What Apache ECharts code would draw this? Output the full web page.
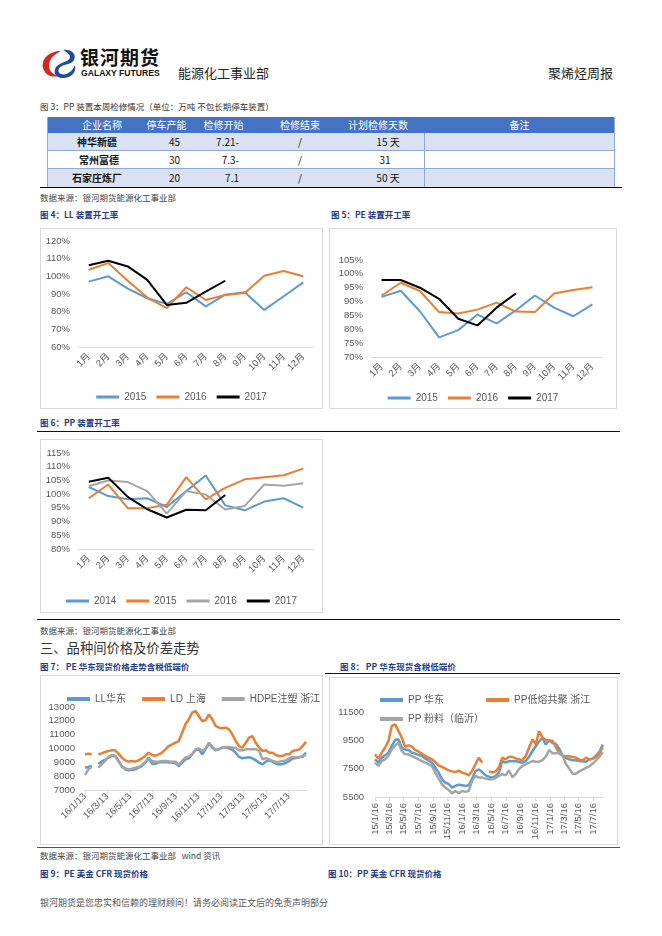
<!DOCTYPE html>
<html><head><meta charset="utf-8">
<script src="https://cdn.jsdelivr.net/npm/echarts@6/dist/echarts.min.js"></script>
<style>
html,body{margin:0;padding:0;background:#fff;}
body{width:662px;height:936px;position:relative;overflow:hidden;font-family:"Noto Sans CJK SC","Noto Sans",sans-serif;}
.t{position:absolute;white-space:nowrap;}
.cap{position:absolute;white-space:nowrap;font-size:8.5px;font-weight:bold;color:#1F3C88;line-height:10px;}
.src{position:absolute;white-space:nowrap;font-size:8.5px;color:#444;line-height:10px;}
.box{position:absolute;border:1px solid #D9D9D9;box-sizing:border-box;}
.hl{position:absolute;height:0;border-top:1px solid #111;}
.cell{position:absolute;font-size:10px;line-height:18px;height:18px;color:#111;}
</style></head>
<body>
<!-- header -->
<svg class="t" style="left:40px;top:48px" width="38" height="32" viewBox="0 0 38 32">
  <path d="M21 3 C9 3 1 11 3 20 C5 27 12 30 18 28 C11 26 7 20 10 13 C12 8 17 5 21 3 Z" fill="#D7261E"/>
  <path d="M23 2 C31 1 37 6 34 12 C32 16 26 16 22 18 C18 20 17 24 21 26 C26 28 33 23 35 17 C37 25 30 31 21 30 C14 29 13 22 17 18 C21 14 28 14 30 10 C31 7 27 4 23 2 Z" fill="#1E4BA0"/>
</svg>
<div class="t" style="left:80px;top:46px;font-size:19px;font-weight:bold;color:#111;letter-spacing:1px;line-height:22px;">银河期货</div>
<div class="t" style="left:81px;top:69px;font-size:8.6px;font-weight:bold;color:#111;font-family:'Liberation Sans',sans-serif;line-height:9px;">GALAXY FUTURES</div>
<div class="t" style="left:178px;top:65px;font-size:13px;color:#222;line-height:16px;">能源化工事业部</div>
<div class="t" style="left:548px;top:65px;font-size:13px;color:#222;line-height:16px;">聚烯烃周报</div>

<!-- table -->
<div class="src" style="left:40px;top:101px;color:#333;">图 3：PP 装置本周检修情况（单位：万吨 不包长期停车装置）</div>
<div style="position:absolute;left:47px;top:117px;width:568px;height:16px;background:#4472C4;"></div>
<div style="position:absolute;left:47px;top:133px;width:568px;height:18px;background:#D9E1F2;border-bottom:1px solid #8EA9DB;box-sizing:border-box;"></div>
<div style="position:absolute;left:47px;top:151px;width:568px;height:18px;background:#fff;border-bottom:1px solid #8EA9DB;box-sizing:border-box;"></div>
<div style="position:absolute;left:47px;top:169px;width:568px;height:19px;background:#D9E1F2;"></div>
<div style="position:absolute;left:424px;top:133px;width:0;height:55px;border-left:1px solid #8EA9DB;"></div>
<div style="position:absolute;left:614px;top:117px;width:0;height:71px;border-left:1px solid #8EA9DB;"></div>
<div style="position:absolute;left:47px;top:117px;width:0;height:71px;border-left:1px solid #8EA9DB;"></div>
<div class="hl" style="left:40px;top:187px;width:582px;border-top:1.5px solid #000;"></div>
<div class="cell" style="left:47px;top:116px;width:110px;text-align:center;color:#fff;">企业名称</div>
<div class="cell" style="left:138px;top:116px;width:57px;text-align:center;color:#fff;">停车产能</div>
<div class="cell" style="left:195px;top:116px;width:57px;text-align:center;color:#fff;">检修开始</div>
<div class="cell" style="left:265px;top:116px;width:70px;text-align:center;color:#fff;">检修结束</div>
<div class="cell" style="left:340px;top:116px;width:76px;text-align:center;color:#fff;">计划检修天数</div>
<div class="cell" style="left:424px;top:116px;width:191px;text-align:center;color:#fff;">备注</div>

<div class="cell" style="left:47px;top:133px;width:100px;text-align:center;font-weight:bold;">神华新疆</div>
<div class="cell" style="left:138px;top:133px;width:42px;text-align:right;">45</div>
<div class="cell" style="left:195px;top:133px;width:44px;text-align:right;">7.21-</div>
<div class="cell" style="left:265px;top:133px;width:70px;text-align:center;">/</div>
<div class="cell" style="left:350px;top:133px;width:76px;text-align:center;">15 天</div>

<div class="cell" style="left:47px;top:151px;width:104px;text-align:center;font-weight:bold;">常州富德</div>
<div class="cell" style="left:138px;top:151px;width:42px;text-align:right;">30</div>
<div class="cell" style="left:195px;top:151px;width:44px;text-align:right;">7.3-</div>
<div class="cell" style="left:265px;top:151px;width:70px;text-align:center;">/</div>
<div class="cell" style="left:347px;top:151px;width:76px;text-align:center;">31</div>

<div class="cell" style="left:47px;top:169px;width:100px;text-align:center;font-weight:bold;">石家庄炼厂</div>
<div class="cell" style="left:138px;top:169px;width:42px;text-align:right;">20</div>
<div class="cell" style="left:195px;top:169px;width:44px;text-align:right;">7.1</div>
<div class="cell" style="left:265px;top:169px;width:70px;text-align:center;">/</div>
<div class="cell" style="left:350px;top:169px;width:76px;text-align:center;">50 天</div>
<div class="src" style="left:40px;top:192px;">数据来源：银河期货能源化工事业部</div>

<!-- fig 4/5 -->
<div class="cap" style="left:40px;top:209px;">图 4：LL 装置开工率</div>
<div class="cap" style="left:331px;top:209px;">图 5：PE 装置开工率</div>
<div class="box" id="c4" style="left:40px;top:228px;width:283px;height:181px;"></div>
<div class="box" id="c5" style="left:329px;top:228px;width:288px;height:181px;"></div>

<!-- fig 6 -->
<div class="cap" style="left:40px;top:417px;">图 6：PP 装置开工率</div>
<div class="hl" style="left:37px;top:431px;width:583px;"></div>
<div class="box" id="c6" style="left:40px;top:439px;width:283px;height:174px;"></div>
<div class="hl" style="left:37px;top:619px;width:583px;"></div>
<div class="src" style="left:40px;top:625px;">数据来源：银河期货能源化工事业部</div>

<!-- section -->
<div class="t" style="left:40px;top:639px;font-size:13.3px;color:#333;line-height:17px;">三、品种间价格及价差走势</div>
<div class="cap" style="left:40px;top:661px;">图 7：&nbsp;PE 华东现货价格走势含税低端价</div>
<div class="cap" style="left:340px;top:661px;">图 8：&nbsp;PP 华东现货含税低端价</div>
<div class="hl" style="left:325px;top:673px;width:295px;"></div>
<div class="box" id="c7" style="left:40px;top:675px;width:283px;height:170px;"></div>
<div class="box" id="c8" style="left:329px;top:677px;width:289px;height:168px;"></div>
<div class="hl" style="left:37px;top:847px;width:583px;border-top:1px solid #555;"></div>
<div class="src" style="left:40px;top:850px;">数据来源：银河期货能源化工事业部&nbsp;&nbsp;&nbsp;wind 资讯</div>
<div class="cap" style="left:40px;top:868px;">图 9：PE 美金 CFR 现货价格</div>
<div class="cap" style="left:328px;top:868px;">图 10：PP 美金 CFR 现货价格</div>
<div class="t" style="left:40px;top:897px;font-size:9px;color:#555;line-height:12px;">银河期货是您忠实和信赖的理财顾问！请务必阅读正文后的免责声明部分</div>

<script>
// ---------- data ----------
const months = ['1月','2月','3月','4月','5月','6月','7月','8月','9月','10月','11月','12月'];

// Fig 4: LL operating rate (%)
const ll2015 = [97, 100, 93, 87.6, 84.4, 91, 83, 89.6, 91, 81, 88.7, 96.6];
const ll2016 = [103.7, 107.5, 97.5, 88, 82, 93.8, 86.6, 89.5, 90.6, 100.3, 103, 100];
const ll2017 = [106.3, 108.8, 105.6, 98, 83.8, 85, 91.3, 97.5];

// Fig 5: PE operating rate (%)
const pe2015 = [91.7, 93.9, 86.5, 77.1, 79.7, 85.3, 82.1, 86.8, 92.2, 87.8, 84.7, 89];
const pe2016 = [92.2, 96.8, 93.8, 86.2, 85.7, 87.1, 89.6, 86.4, 86.2, 92.9, 94.2, 95.2];
const pe2017 = [97.8, 97.8, 95, 91, 83.8, 81.4, 87.8, 92.9];

// Fig 6: PP operating rate (%)
const pp2014 = [102.6, 99.3, 98.1, 98.5, 95.3, 101.1, 106.8, 95.9, 94.1, 97.3, 98.5, 95.1];
const pp2015 = [98.5, 103.5, 94.9, 94.9, 96.1, 106.2, 98.1, 102.3, 105.4, 106.2, 106.9, 109.3];
const pp2016 = [102.9, 105, 104.4, 101.1, 92.9, 101.1, 99.9, 94.4, 95.7, 103.5, 103.1, 104];
const pp2017 = [104.5, 106, 99, 94.5, 91.5, 94.3, 94.1, 99.7];

// Fig 7: PE East China spot prices
const peDates = ['2016-01-13','2016-01-22','2016-01-31','2016-02-09','2016-02-18','2016-02-27','2016-03-07','2016-03-16','2016-03-25','2016-04-03','2016-04-12','2016-04-21','2016-04-30','2016-05-09','2016-05-18','2016-05-27','2016-06-05','2016-06-14','2016-06-23','2016-07-02','2016-07-11','2016-07-20','2016-07-29','2016-08-07','2016-08-16','2016-08-25','2016-09-03','2016-09-12','2016-09-21','2016-09-30','2016-10-09','2016-10-18','2016-10-27','2016-11-05','2016-11-14','2016-11-23','2016-12-02','2016-12-11','2016-12-20','2016-12-29','2017-01-07','2017-01-16','2017-01-25','2017-02-03','2017-02-12','2017-02-21','2017-03-02','2017-03-11','2017-03-20','2017-03-29','2017-04-07','2017-04-16','2017-04-25','2017-05-04','2017-05-13','2017-05-22','2017-05-31','2017-06-09','2017-06-18','2017-06-27','2017-07-06','2017-07-15','2017-07-24','2017-08-02','2017-08-11','2017-08-20','2017-08-29'];
const llEast = [8610,8660,8730,null,8900,9050,9190,9340,9480,9460,9100,8730,8490,8420,8450,8490,8610,8730,8980,9340,8900,8900,8980,9000,9020,8980,8980,8950,8730,8980,9220,9290,9580,9870,9940,9580,9940,10350,10060,9870,9940,10080,10080,10010,9910,9700,9390,9290,9340,9360,9290,9140,8980,8850,9050,9140,9050,8900,8850,8880,8950,9100,9270,9310,9360,9430,9700];
const ldShanghai = [9580,9630,9580,null,9580,9650,9750,9820,9870,9870,9630,9340,9140,9050,9100,9050,9140,9290,9460,9700,9530,9480,9580,9700,9940,10180,10300,10420,10540,11140,11750,12110,12590,12710,12350,11990,12040,12470,12110,11630,11510,11460,11510,11390,11020,10540,10180,10060,10420,10780,10900,10420,10060,9820,9870,9700,9700,9530,9460,9460,9580,9580,9820,9870,9940,10180,10490];
const hdpeZhejiang = [8080,8490,8660,null,8610,8850,9100,9390,9530,9460,9140,8660,8570,8490,8540,8610,8660,8810,9020,9290,9100,9050,9050,9100,9100,9070,9050,9050,8810,9100,9340,9410,9580,9940,10010,9820,9990,10420,10130,9910,9940,10060,10110,10110,10060,10060,9870,9870,9940,9940,9940,9960,9820,9220,9290,9220,9100,9020,9050,9100,9140,9290,9390,9340,9390,9390,9580];
const peTickDates = ['2016-01-13','2016-03-13','2016-05-13','2016-07-13','2016-09-13','2016-11-13','2017-01-13','2017-03-13','2017-05-13','2017-07-13'];

// Fig 8: PP East China spot prices
const ppDates = ['2015-01-16','2015-01-30','2015-02-13','2015-02-27','2015-03-13','2015-03-27','2015-04-10','2015-04-24','2015-05-08','2015-05-22','2015-06-05','2015-06-19','2015-07-03','2015-07-17','2015-07-31','2015-08-14','2015-08-28','2015-09-11','2015-09-25','2015-10-09','2015-10-23','2015-11-06','2015-11-20','2015-12-04','2015-12-18','2016-01-01','2016-01-15','2016-01-29','2016-02-12','2016-02-26','2016-03-11','2016-03-25','2016-04-08','2016-04-22','2016-05-06','2016-05-20','2016-06-03','2016-06-17','2016-07-01','2016-07-15','2016-07-29','2016-08-12','2016-08-26','2016-09-09','2016-09-23','2016-10-07','2016-10-21','2016-11-04','2016-11-18','2016-12-02','2016-12-16','2016-12-30','2017-01-13','2017-01-27','2017-02-10','2017-02-24','2017-03-10','2017-03-24','2017-04-07','2017-04-21','2017-05-05','2017-05-19','2017-06-02','2017-06-16','2017-06-30','2017-07-14','2017-07-28','2017-08-11','2017-08-25'];
const ppEast = [8160,7920,8280,8440,8630,9100,9520,9570,8980,8860,8820,8630,8560,8470,8390,8210,8090,7920,7570,7220,6750,6510,6420,6160,6280,6370,6330,6280,6330,6800,7320,7450,7260,7030,6940,6870,6980,7220,8040,7920,8040,8020,8040,7970,7920,8040,8340,8730,9080,9430,9670,9200,9500,9310,9240,8910,8440,8250,8160,8090,8090,8030,8030,7990,8160,8210,8440,8680,9210];
const ppCopolymer = [8510,8200,8630,8980,9450,10510,10630,10160,9690,9050,9150,9050,8820,8700,8560,8390,8280,8160,7970,7730,7620,7500,7380,7310,7260,7360,7220,7150,7030,7340,7810,8280,7920,null,7290,7250,7290,7590,8280,8160,8350,8330,8230,8160,8090,8390,8980,9570,9220,10130,9710,9520,9470,9470,9030,8560,8440,8370,8370,8320,8280,8140,8090,8280,8140,8210,8320,8560,9030];
const ppPowder = [7920,7690,8040,8160,8390,8860,9140,9330,8740,8510,8510,8390,8280,8160,8040,7920,7800,7690,7220,6800,6400,6160,6000,5760,5930,5760,5930,5860,5930,6640,6990,6870,6870,6800,6750,6750,6840,6980,7120,7030,7380,6890,7120,7470,7690,7800,7920,8040,7990,7990,8110,8350,8820,8580,8580,8630,8440,7850,7500,7150,7150,7310,7430,7550,7670,7860,8090,8330,8680];
const ppTickDates = ['2015-01-16','2015-03-16','2015-05-16','2015-07-16','2015-09-16','2015-11-16','2016-01-16','2016-03-16','2016-05-16','2016-07-16','2016-09-16','2016-11-16','2017-01-16','2017-03-16','2017-05-16','2017-07-16'];

// ---------- helpers ----------
const FONT = "'Liberation Sans','Noto Sans CJK SC',sans-serif";
const LBL = '#595959';
const C = {blue:'#5B9BD5', orange:'#ED7D31', gray:'#A5A5A5', black:'#000000'};
function ts(s){const p=s.split('-');return new Date(+p[0],+p[1]-1,+p[2]).getTime();}
function pair(d,v){return d.map((x,i)=>[ts(x),v[i]]);}
function fmtDate(val){const d=new Date(val);return (d.getFullYear()%100)+'/'+(d.getMonth()+1)+'/'+d.getDate();}

function rateChart(id, grid, ymin, ymax, step, seriesDefs, legendTop){
  const ch = echarts.init(document.getElementById(id), null, {renderer:'canvas'});
  ch.setOption({
    animation:false,
    textStyle:{fontFamily:FONT},
    grid:grid,
    legend:{top:legendTop,left:'center',icon:'rect',itemWidth:23,itemHeight:3,itemGap:10,
      textStyle:{color:LBL,fontSize:10,fontFamily:FONT},data:seriesDefs.map(s=>s.name)},
    xAxis:{type:'category',data:months,boundaryGap:true,
      axisLine:{lineStyle:{color:'#D9D9D9'}},axisTick:{show:false},
      axisLabel:{rotate:45,color:LBL,fontSize:9.5,margin:8,interval:0}},
    yAxis:{type:'value',min:ymin,max:ymax,interval:step,
      axisLine:{show:false},axisTick:{show:false},splitLine:{show:false},
      axisLabel:{color:LBL,fontSize:9.5,margin:9,formatter:v=>v+'%'}},
    series:seriesDefs.map(s=>({name:s.name,type:'line',data:s.data,showSymbol:false,
      lineStyle:{color:s.color,width:2},itemStyle:{color:s.color}}))
  });
}

rateChart('c4',{left:38,top:12,width:234,height:106},60,120,10,[
  {name:'2015',data:ll2015,color:C.blue},
  {name:'2016',data:ll2016,color:C.orange},
  {name:'2017',data:ll2017,color:C.black}],158);

rateChart('c5',{left:42,top:31,width:230,height:97},70,105,5,[
  {name:'2015',data:pe2015,color:C.blue},
  {name:'2016',data:pe2016,color:C.orange},
  {name:'2017',data:pe2017,color:C.black}],159);

rateChart('c6',{left:38,top:13,width:234,height:96},80,115,5,[
  {name:'2014',data:pp2014,color:C.blue},
  {name:'2015',data:pp2015,color:C.orange},
  {name:'2016',data:pp2016,color:C.gray},
  {name:'2017',data:pp2017,color:C.black}],151);

function priceChart(id, grid, legends, xr, ticks, rot, lblMargin, yAxis, defs){
  const ch = echarts.init(document.getElementById(id));
  const tv = ticks.map(ts);
  ch.setOption({
    animation:false,textStyle:{fontFamily:FONT},
    grid:grid,
    legend:legends.map(l=>Object.assign({icon:'rect',itemWidth:23,itemHeight:4,itemGap:10,width:270,
      textStyle:{color:LBL,fontSize:10,fontFamily:FONT}},l)),
    xAxis:{type:'value',min:ts(xr[0]),max:ts(xr[1]),
      axisLine:{lineStyle:{color:'#D9D9D9'}},
      axisTick:{show:true,length:4,lineStyle:{color:'#D9D9D9'},customValues:tv},
      splitLine:{show:false},
      axisLabel:{rotate:rot,color:LBL,fontSize:9.5,margin:lblMargin,customValues:tv,formatter:fmtDate}},
    yAxis:Object.assign({type:'value',axisLine:{show:false},axisTick:{show:false},splitLine:{show:false}},yAxis),
    series:defs.map(s=>({name:s.name,type:'line',data:pair(s.dates,s.data),showSymbol:false,connectNulls:false,
      lineStyle:{color:s.color,width:2.5},itemStyle:{color:s.color}}))
  });
}

priceChart('c7',{left:44,top:31,width:221,height:83},
  [{top:13,left:21,itemGap:16,data:['LL华东','LD 上海','HDPE注塑 浙江']}],
  ['2016-01-13','2017-08-29'], peTickDates, 45, 5,
  {min:7000,max:13000,interval:1000,axisLabel:{color:LBL,fontSize:9.5,margin:10,formatter:v=>String(v)}},
  [{name:'LL华东',dates:peDates,data:llEast,color:C.blue},
   {name:'LD 上海',dates:peDates,data:ldShanghai,color:C.orange},
   {name:'HDPE注塑 浙江',dates:peDates,data:hdpeZhejiang,color:C.gray}]);

priceChart('c8',{left:45,top:34,width:228,height:85},
  [{top:12,left:45,itemGap:42,data:['PP 华东','PP低熔共聚 浙江']},
   {top:31,left:45,data:['PP 粉料（临沂）']}],
  ['2015-01-16','2017-08-26'], ppTickDates, 90, 6,
  {min:5500,max:11500,axisLabel:{color:LBL,fontSize:9.5,margin:11,customValues:[5500,7500,9500,11500],formatter:v=>String(v)}},
  [{name:'PP 华东',dates:ppDates,data:ppEast,color:C.blue},
   {name:'PP低熔共聚 浙江',dates:ppDates,data:ppCopolymer,color:C.orange},
   {name:'PP 粉料（临沂）',dates:ppDates,data:ppPowder,color:C.gray}]);
</script>
</body></html>
